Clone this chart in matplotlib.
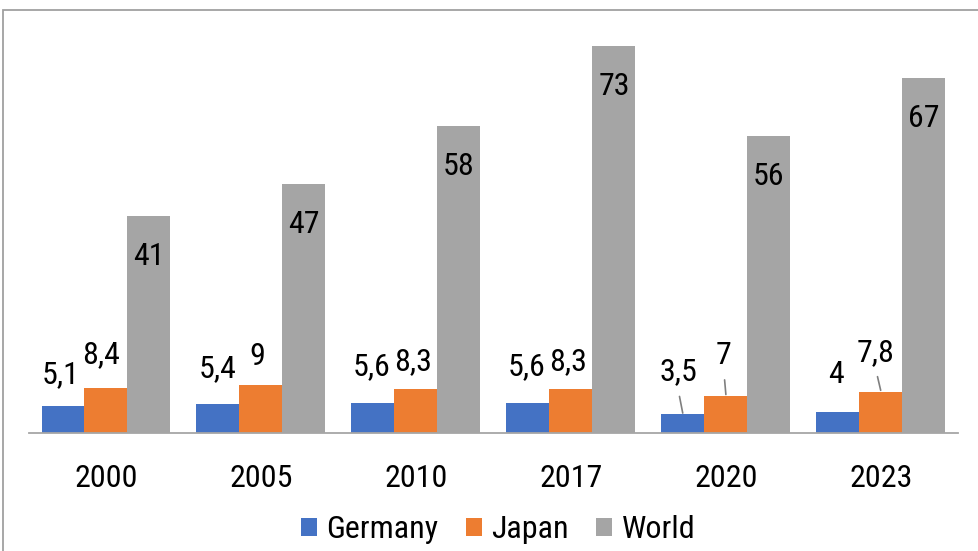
import matplotlib
matplotlib.use("Agg")
import matplotlib.pyplot as plt
from matplotlib.patches import Rectangle
import numpy as np

years = ["2000", "2005", "2010", "2017", "2020", "2023"]
germany = [5.1, 5.4, 5.6, 5.6, 3.5, 4.0]
japan = [8.4, 9.0, 8.3, 8.3, 7.0, 7.8]
world = [41, 47, 58, 73, 56, 67]

BLUE = "#4472C4"
ORANGE = "#ED7D31"
GRAY = "#A5A5A5"
# narrow faces first if present, otherwise Liberation Sans
FONT = ["Roboto Condensed", "Liberation Sans Narrow", "Liberation Sans", "DejaVu Sans"]
FS = 23

plt.rcParams["font.family"] = FONT

W, H = 979, 551
fig = plt.figure(figsize=(W / 100, H / 100), dpi=100, facecolor="white")

# outer chart border (right/bottom edges run off the image)
fig.patches.append(Rectangle((3 / W, -0.05), 1.05, (H - 10) / H + 0.05,
                             transform=fig.transFigure, fill=False,
                             edgecolor="#A0A0A0", linewidth=1.3))

ax = fig.add_axes([28.5 / W, (H - 433) / H, 930 / W, 424 / H])
ax.set_xlim(-0.5, len(years) - 0.5)
ax.set_ylim(0, 80)

x = np.arange(len(years))
bw = 43 / 155
b_g = ax.bar(x - bw, germany, bw, color=BLUE, label="Germany")
b_j = ax.bar(x, japan, bw, color=ORANGE, label="Japan")
b_w = ax.bar(x + bw, world, bw, color=GRAY, label="World")


def fmt(v):
    s = f"{v:g}"
    return s.replace(".", ",")


# label offsets in px (dx, height of baseline above bar top), Excel auto-layout
g_off = [(-2, 23), (0, 27), (-1, 28), (-1, 28), (-5, 34), (-2, 29)]
j_off = [(-5, 25), (-4, 20), (-3, 19), (-3, 19), (-2, 32), (-5, 31)]
g_lead = [False, False, False, False, True, False]
j_lead = [False, False, False, False, True, True]

PX = 0.72  # points per pixel at dpi 100

for bars, vals, offs, leads in [(b_g, germany, g_off, g_lead),
                                (b_j, japan, j_off, j_lead)]:
    for b, v, (dx, dy), lead in zip(bars, vals, offs, leads):
        cx = b.get_x() + b.get_width() / 2
        ax.annotate(fmt(v), (cx, v), xytext=(dx * PX, dy * PX),
                    textcoords="offset points", ha="center", va="baseline",
                    fontsize=FS, color="black")
        if lead:
            ax.annotate("", (cx, v), xytext=(dx * PX * 0.7, (dy - 16) * PX),
                        textcoords="offset points",
                        arrowprops=dict(arrowstyle="-", color="#7F7F7F",
                                        lw=1.2, shrinkA=0, shrinkB=1))

for b, v in zip(b_w, world):
    cx = b.get_x() + b.get_width() / 2
    ax.annotate(fmt(v), (cx, v), xytext=(0, -49 * PX),
                textcoords="offset points", ha="center", va="baseline",
                fontsize=FS, color="black")

for s in ["top", "left", "right"]:
    ax.spines[s].set_visible(False)
ax.spines["bottom"].set_color("#A6A6A6")
ax.spines["bottom"].set_linewidth(1.3)
ax.set_yticks([])
ax.set_xticks(x)
ax.set_xticklabels(years, fontsize=FS)
ax.tick_params(axis="x", length=0, pad=22)

fig.legend(loc="center", bbox_to_anchor=(498 / W, (H - 530) / H), ncol=3,
           frameon=False, fontsize=FS, handlelength=0.5, handleheight=0.5,
           handletextpad=0.3, columnspacing=0.85, borderpad=0)

fig.savefig("out.png", dpi=100, facecolor="white")
